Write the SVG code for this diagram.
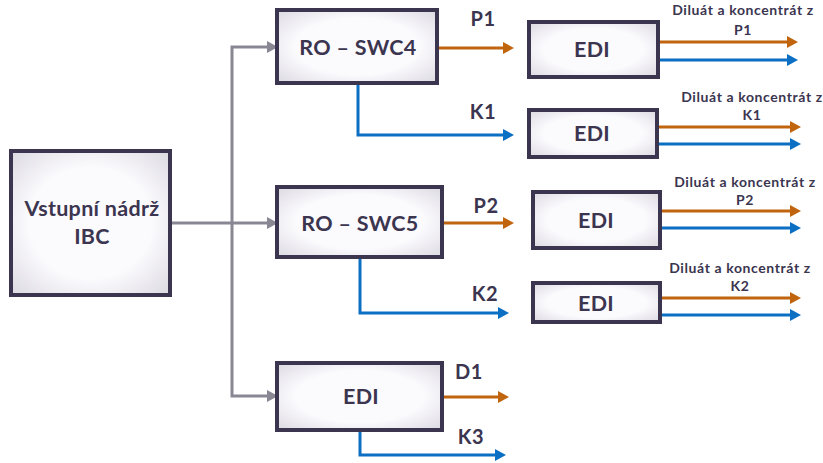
<svg xmlns="http://www.w3.org/2000/svg" width="823" height="463" viewBox="0 0 823 463">
<defs>
<radialGradient id="glow" cx="50%" cy="50%" r="70%">
<stop offset="0.55" stop-color="#fbfafd"/>
<stop offset="1" stop-color="#dcdae2"/>
</radialGradient>
<marker id="aG" markerUnits="userSpaceOnUse" markerWidth="11" markerHeight="12" refX="5" refY="6" orient="auto"><path d="M0,0 L11,6 L0,12 z" fill="#8a8794"/></marker>
<marker id="aO" markerUnits="userSpaceOnUse" markerWidth="11" markerHeight="12" refX="5" refY="6" orient="auto"><path d="M0,0 L11,6 L0,12 z" fill="#c0650e"/></marker>
<marker id="aB" markerUnits="userSpaceOnUse" markerWidth="11" markerHeight="12" refX="5" refY="6" orient="auto"><path d="M0,0 L11,6 L0,12 z" fill="#0b6fc4"/></marker>
</defs>
<style>
.box{fill:url(#glow);stroke:#3c3550;stroke-width:4}
.t{font-family:Lato,"Open Sans","Liberation Sans",sans-serif;font-weight:bold;fill:#3b3550;text-anchor:middle}
.big{font-size:21.5px;letter-spacing:0.3px}
.lab{font-size:20px;letter-spacing:0.5px}
.sm{font-size:14px;letter-spacing:0.6px}
.g{fill:none;stroke:#8a8794;stroke-width:3;marker-end:url(#aG)}
.o{fill:none;stroke:#c0650e;stroke-width:3;marker-end:url(#aO)}
.b{fill:none;stroke:#0b6fc4;stroke-width:3;marker-end:url(#aB)}
</style>
<rect width="823" height="463" fill="#ffffff"/>
<g id="connectors">
<path class="g" d="M172,223 H272"/>
<path class="g" d="M232,223 V47 H272"/>
<path class="g" d="M232,223 V396 H272"/>
<path class="o" d="M437,48 H508"/>
<path class="b" d="M358,83 V135 H508"/>
<path class="o" d="M442,223 H508"/>
<path class="b" d="M360,257 V313 H503"/>
<path class="o" d="M442,397 H503"/>
<path class="b" d="M360,430 V455 H500"/>
<path class="o" d="M658,42 H792"/>
<path class="b" d="M658,60 H792"/>
<path class="o" d="M657,127 H795"/>
<path class="b" d="M657,144 H795"/>
<path class="o" d="M660,211 H795"/>
<path class="b" d="M660,228 H795"/>
<path class="o" d="M660,298 H795"/>
<path class="b" d="M660,315 H795"/>
</g>
<g id="tank">
<rect class="box" x="11" y="151" width="159" height="144"/>
<text class="t big" x="92" y="216">Vstupní nádrž</text>
<text class="t big" x="92" y="244">IBC</text>
</g>
<g id="ro-swc4">
<rect class="box" x="277" y="10" width="160" height="73"/>
<text class="t big" x="358" y="55">RO – SWC4</text>
</g>
<g id="ro-swc5">
<rect class="box" x="277" y="187" width="165" height="70"/>
<text class="t big" x="360" y="231">RO – SWC5</text>
</g>
<g id="edi-main">
<rect class="box" x="277" y="363" width="165" height="67"/>
<text class="t big" x="361" y="404">EDI</text>
</g>
<g id="edi-p1">
<rect class="box" x="529" y="22" width="129" height="55"/>
<text class="t big" x="592" y="57">EDI</text>
</g>
<g id="edi-k1">
<rect class="box" x="529" y="110" width="128" height="47"/>
<text class="t big" x="592" y="141">EDI</text>
</g>
<g id="edi-p2">
<rect class="box" x="533" y="192" width="127" height="56"/>
<text class="t big" x="596" y="228">EDI</text>
</g>
<g id="edi-k2">
<rect class="box" x="533" y="283" width="127" height="39"/>
<text class="t big" x="596" y="311">EDI</text>
</g>
<g id="labels">
<text class="t lab" x="483" y="26">P1</text>
<text class="t lab" x="483" y="119">K1</text>
<text class="t lab" x="486" y="213">P2</text>
<text class="t lab" x="485" y="301">K2</text>
<text class="t lab" x="469" y="379">D1</text>
<text class="t lab" x="471" y="444">K3</text>
<text class="t sm" x="743" y="15">Diluát a koncentrát z</text>
<text class="t sm" x="743" y="35">P1</text>
<text class="t sm" x="752" y="102">Diluát a koncentrát z</text>
<text class="t sm" x="752" y="120">K1</text>
<text class="t sm" x="745" y="187">Diluát a koncentrát z</text>
<text class="t sm" x="745" y="205">P2</text>
<text class="t sm" x="740" y="273">Diluát a koncentrát z</text>
<text class="t sm" x="740" y="291">K2</text>
</g>
</svg>
